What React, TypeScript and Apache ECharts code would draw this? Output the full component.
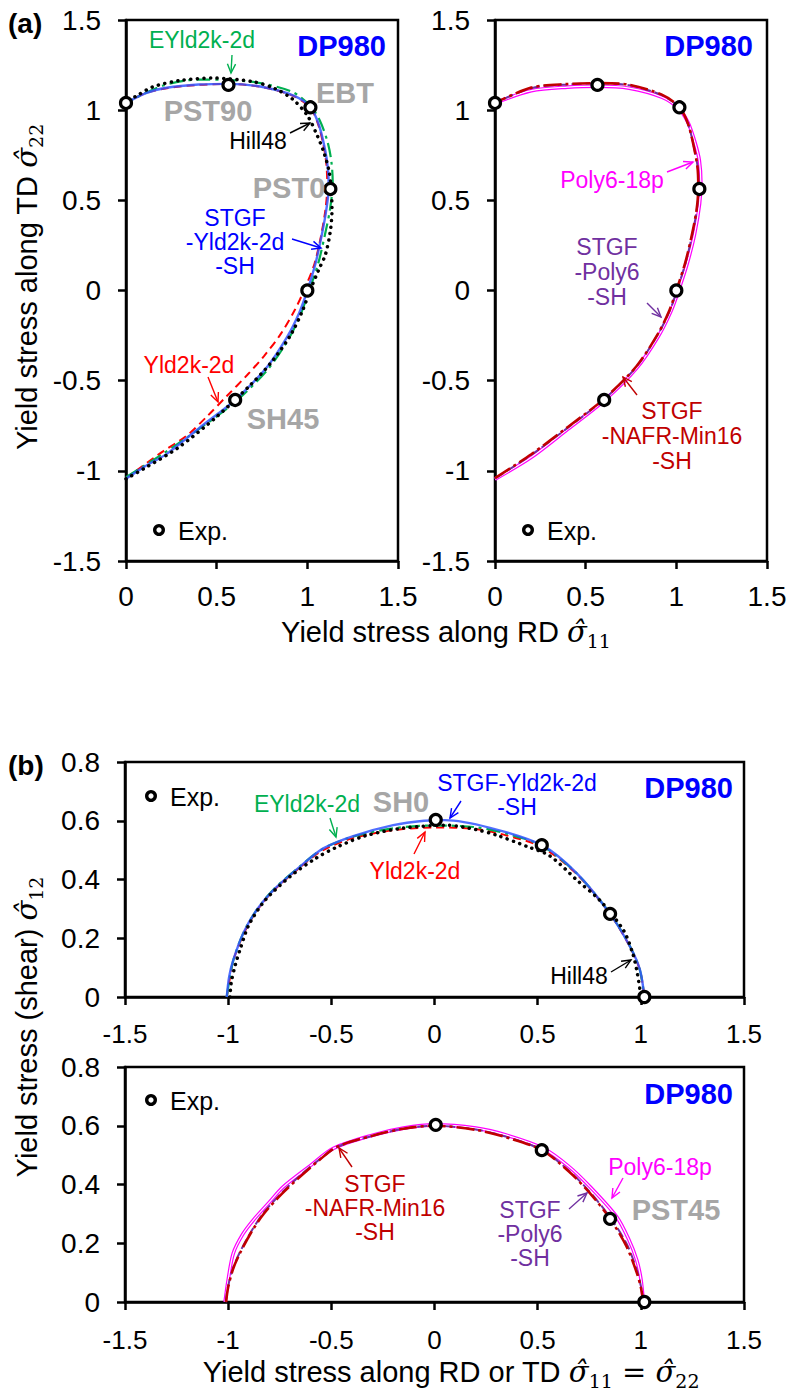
import React, { useEffect, useRef } from "react";
import * as echarts from "echarts";

const FONT = '"Liberation Sans", Arial, sans-serif';

// ---------- data ----------
const expA = [[0, 1.04], [0.565, 1.14], [1.017, 1.016], [1.127, 0.563], [1.0, 0.0], [0.602, -0.607]];
const expB = [[0.006, 0.603], [0.52, 0.517], [0.851, 0.283], [1.017, 0]];

const stgfYld2kA = [[0, -1.044], [0.1, -0.978], [0.225, -0.906], [0.409, -0.758], [0.602, -0.606], [0.777, -0.425], [0.888, -0.259], [0.955, -0.125], [1.0, 0], [1.045, 0.15], [1.081, 0.315], [1.105, 0.45], [1.118, 0.574], [1.113, 0.68], [1.098, 0.78], [1.065, 0.915], [1.017, 1.017], [0.924, 1.081], [0.74, 1.131], [0.565, 1.146], [0.4, 1.142], [0.225, 1.124], [0.11, 1.095], [0, 1.04]];
const hill48A = [[0, -1.045], [0.095, -0.99], [0.29, -0.87], [0.5, -0.7], [0.68, -0.53], [0.8, -0.4], [0.906, -0.25], [0.97, -0.12], [1.015, 0], [1.065, 0.12], [1.1, 0.2], [1.127, 0.33], [1.136, 0.45], [1.132, 0.56], [1.12, 0.66], [1.09, 0.77], [1.05, 0.87], [1.0, 0.97], [0.92, 1.06], [0.82, 1.12], [0.7, 1.158], [0.48, 1.178], [0.3, 1.165], [0.15, 1.13], [0.06, 1.08], [0, 1.045]];
const eyld2kA = [[0, -1.035], [0.2, -0.908], [0.4, -0.77], [0.6, -0.62], [0.78, -0.44], [0.89, -0.28], [0.96, -0.14], [1.01, 0], [1.06, 0.15], [1.095, 0.3], [1.125, 0.45], [1.14, 0.6], [1.132, 0.72], [1.11, 0.83], [1.07, 0.94], [1.02, 1.02], [0.92, 1.1], [0.74, 1.15], [0.55, 1.168], [0.4, 1.17], [0.2, 1.135], [0, 1.04]];
const yld2kA = [[0, -1.04], [0.2, -0.895], [0.335, -0.805], [0.45, -0.695], [0.556, -0.585], [0.667, -0.47], [0.76, -0.365], [0.851, -0.245], [0.93, -0.11], [0.99, 0.02], [1.04, 0.15], [1.075, 0.3], [1.1, 0.45], [1.11, 0.58], [1.105, 0.7], [1.09, 0.8], [1.06, 0.92], [1.015, 1.015], [0.92, 1.08], [0.74, 1.13], [0.565, 1.145], [0.4, 1.14], [0.225, 1.122], [0.11, 1.095], [0, 1.04]];

const poly6A = [[0, -1.046], [0.2, -0.925], [0.4, -0.77], [0.6, -0.612], [0.78, -0.432], [0.9, -0.255], [0.97, -0.115], [1.012, 0], [1.06, 0.15], [1.1, 0.31], [1.128, 0.48], [1.135, 0.6], [1.127, 0.72], [1.103, 0.82], [1.065, 0.93], [1.015, 1.008], [0.92, 1.072], [0.74, 1.122], [0.57, 1.133], [0.4, 1.128], [0.2, 1.108], [0, 1.04]];
const stgfPoly6A = [[0, -1.042], [0.2, -0.912], [0.4, -0.762], [0.6, -0.605], [0.78, -0.423], [0.9, -0.24], [0.965, -0.11], [1.003, 0], [1.05, 0.15], [1.088, 0.31], [1.113, 0.45], [1.122, 0.57], [1.118, 0.68], [1.1, 0.78], [1.066, 0.92], [1.017, 1.015], [0.92, 1.083], [0.74, 1.138], [0.57, 1.148], [0.4, 1.143], [0.2, 1.122], [0, 1.04]];
const nafrA = [[0, -1.04], [0.2, -0.908], [0.4, -0.758], [0.6, -0.602], [0.78, -0.42], [0.9, -0.238], [0.962, -0.11], [1.0, 0], [1.048, 0.15], [1.086, 0.31], [1.112, 0.45], [1.121, 0.57], [1.117, 0.68], [1.1, 0.78], [1.066, 0.92], [1.017, 1.017], [0.92, 1.086], [0.74, 1.141], [0.57, 1.15], [0.4, 1.145], [0.2, 1.125], [0, 1.04]];

const stgfYld2kB = [[-1.007, 0], [-0.995, 0.07], [-0.975, 0.126], [-0.927, 0.217], [-0.862, 0.296], [-0.781, 0.364], [-0.652, 0.444], [-0.539, 0.506], [-0.394, 0.548], [-0.2, 0.585], [-0.05, 0.6], [0.05, 0.602], [0.269, 0.576], [0.52, 0.517], [0.69, 0.421], [0.851, 0.283], [0.948, 0.171], [0.996, 0.092], [1.017, 0]];
const hill48B = [[-0.991, 0], [-0.985, 0.05], [-0.965, 0.11], [-0.943, 0.16], [-0.9, 0.245], [-0.82, 0.33], [-0.7, 0.41], [-0.58, 0.47], [-0.474, 0.51], [-0.329, 0.55], [-0.15, 0.575], [0.06, 0.585], [0.2, 0.57], [0.3, 0.551], [0.45, 0.512], [0.56, 0.48], [0.69, 0.398], [0.8, 0.33], [0.915, 0.228], [0.96, 0.15], [0.98, 0.092], [0.996, 0.024], [1.0, 0]];
const yld2kB = [[-1.007, 0], [-0.99, 0.07], [-0.975, 0.125], [-0.925, 0.215], [-0.86, 0.295], [-0.78, 0.362], [-0.65, 0.442], [-0.54, 0.5], [-0.4, 0.54], [-0.2, 0.568], [0, 0.577], [0.2, 0.572], [0.35, 0.55], [0.52, 0.51], [0.69, 0.418], [0.851, 0.282], [0.948, 0.17], [0.996, 0.09], [1.017, 0]];
const eyld2kB = [[-1.007, 0], [-0.99, 0.075], [-0.973, 0.13], [-0.925, 0.22], [-0.86, 0.298], [-0.78, 0.366], [-0.65, 0.446], [-0.54, 0.505], [-0.4, 0.545], [-0.2, 0.574], [0, 0.584], [0.2, 0.578], [0.35, 0.556], [0.52, 0.515], [0.69, 0.42], [0.851, 0.284], [0.948, 0.172], [0.996, 0.09], [1.017, 0]];

const poly6B = [[-1.015, 0], [-1.0, 0.075], [-0.975, 0.166], [-0.93, 0.23], [-0.878, 0.279], [-0.8, 0.34], [-0.733, 0.392], [-0.6, 0.465], [-0.49, 0.523], [-0.3, 0.568], [-0.15, 0.592], [0, 0.603], [0.2, 0.592], [0.35, 0.568], [0.527, 0.523], [0.65, 0.462], [0.754, 0.392], [0.883, 0.29], [0.94, 0.215], [0.98, 0.143], [1.0, 0.08], [1.012, 0]];
const nafrB = [[-1.01, 0], [-1.0, 0.05], [-0.975, 0.115], [-0.943, 0.166], [-0.89, 0.235], [-0.83, 0.298], [-0.74, 0.368], [-0.652, 0.426], [-0.56, 0.482], [-0.474, 0.528], [-0.3, 0.566], [-0.15, 0.59], [0, 0.6], [0.2, 0.586], [0.35, 0.56], [0.52, 0.517], [0.65, 0.445], [0.754, 0.37], [0.851, 0.283], [0.93, 0.19], [0.98, 0.1], [1.0, 0.05], [1.012, 0]];
const stgfPoly6B = [[-1.012, 0], [-1.0, 0.055], [-0.975, 0.118], [-0.943, 0.17], [-0.89, 0.238], [-0.83, 0.302], [-0.74, 0.372], [-0.652, 0.43], [-0.56, 0.484], [-0.474, 0.527], [-0.3, 0.566], [-0.15, 0.59], [0, 0.6], [0.2, 0.587], [0.35, 0.562], [0.52, 0.518], [0.65, 0.448], [0.754, 0.374], [0.851, 0.288], [0.93, 0.2], [0.98, 0.11], [1.0, 0.055], [1.012, 0]];

// ---------- colours ----------
const C = {
  blue: "#0000ff",
  curveBlue: "#3355ff",
  green: "#00b050",
  red: "#ff0000",
  darkRed: "#c00000",
  purple: "#7030a0",
  magenta: "#ff00ff",
  gray: "#a6a6a6",
};

function line(name, data, gi, color, width, type, extra = {}) {
  const dotted = type === "dotted";
  return {
    name,
    type: "line",
    xAxisIndex: gi,
    yAxisIndex: gi,
    data,
    showSymbol: false,
    symbol: "none",
    smooth: 0.3,
    silent: true,
    lineStyle: dotted
      ? { color, width, type: [0.1, 6.5], cap: "round" }
      : { color, width, type, cap: "butt", ...extra },
    z: 3,
  };
}

function exp(data, gi) {
  return {
    name: "Exp.",
    type: "scatter",
    xAxisIndex: gi,
    yAxisIndex: gi,
    data,
    symbol: "circle",
    symbolSize: 11,
    silent: true,
    itemStyle: { color: "#ffffff", borderColor: "#000000", borderWidth: 3.2, opacity: 1 },
    z: 10,
  };
}

function txt(x, y, text, color, size, bold = false, align = "center", lineHeight = 24) {
  return {
    type: "text",
    x,
    y,
    silent: true,
    z: 50,
    style: {
      text,
      fill: color,
      fontSize: size,
      fontFamily: FONT,
      fontWeight: bold ? "bold" : "normal",
      align,
      textAlign: align,
      verticalAlign: "middle",
      textVerticalAlign: "middle",
      lineHeight,
    },
  };
}

function arrow(x1, y1, x2, y2, color) {
  const a = Math.atan2(y2 - y1, x2 - x1);
  const L = 10;
  const w = 0.42;
  const p1 = [x2 - L * Math.cos(a - w), y2 - L * Math.sin(a - w)];
  const p2 = [x2 - L * Math.cos(a + w), y2 - L * Math.sin(a + w)];
  return [
    { type: "line", silent: true, z: 50, shape: { x1, y1, x2, y2 }, style: { stroke: color, lineWidth: 1.4 } },
    { type: "polyline", silent: true, z: 50, shape: { points: [p1, [x2, y2], p2] }, style: { stroke: color, fill: null, lineWidth: 1.4 } },
  ];
}

function legendExp(cx, cy) {
  return [
    { type: "circle", silent: true, z: 50, shape: { cx, cy, r: 4.3 }, style: { fill: "#fff", stroke: "#000", lineWidth: 3.4 } },
    txt(cx + 19, cy + 1, "Exp.", "#000", 25, false, "left"),
  ];
}

const richBase = {
  n: { fontSize: 29, fontFamily: FONT, fill: "#000", lineHeight: 36, verticalAlign: "middle" },
  s: { fontSize: 29, fontFamily: '"DejaVu Serif", serif', fontStyle: "italic", fill: "#000", lineHeight: 36, verticalAlign: "middle" },
  b: { fontSize: 19, fontFamily: '"DejaVu Serif", serif', fill: "#000", lineHeight: 24, verticalAlign: "bottom" },
};

function richTitle(x, y, text, rotation = 0) {
  return {
    type: "text",
    x,
    y,
    rotation,
    silent: true,
    z: 50,
    style: {
      text,
      rich: richBase,
      align: "center",
      textAlign: "center",
      verticalAlign: "middle",
      textVerticalAlign: "middle",
    },
  };
}

function xAx(gi, min, max, margin, fs) {
  return {
    type: "value",
    gridIndex: gi,
    min,
    max,
    interval: 0.5,
    axisLine: { show: true, onZero: false, lineStyle: { color: "#000", width: 2.5 } },
    axisTick: { show: true, inside: false, length: 8, lineStyle: { color: "#000", width: 2.5 } },
    axisLabel: { color: "#000", fontSize: fs, fontFamily: FONT, margin },
    splitLine: { show: false },
  };
}
function yAx(gi, min, max, interval) {
  return {
    type: "value",
    gridIndex: gi,
    min,
    max,
    interval,
    axisLine: { show: true, onZero: false, lineStyle: { color: "#000", width: 2.5 } },
    axisTick: { show: true, inside: false, length: 8, lineStyle: { color: "#000", width: 2.5 } },
    axisLabel: { color: "#000", fontSize: 28, fontFamily: FONT, margin: 25 },
    splitLine: { show: false },
  };
}

export default function App() {
  const ref = useRef(null);
  useEffect(() => {
    const chart = echarts.init(ref.current, null, { renderer: "svg" });
    const gridStyle = { show: true, borderColor: "#000", borderWidth: 2.5, backgroundColor: "transparent", containLabel: false };
    const graphics = [
      // panel (a) left
      txt(8, 23, "(a)", "#000", 28, true, "left"),
      txt(202, 40, "EYld2k-2d", C.green, 23),
      ...arrow(232, 55, 231, 73, C.green),
      txt(386, 46, "DP980", C.blue, 29, true, "right"),
      txt(208, 111, "PST90", C.gray, 29, true),
      txt(345, 93, "EBT", C.gray, 29, true),
      txt(258, 141, "Hill48", "#000", 23),
      ...arrow(290, 133, 310, 123, "#000"),
      txt(289, 188, "PST0", C.gray, 29, true),
      txt(235, 242, "STGF\n-Yld2k-2d\n-SH", C.blue, 23, false, "center", 24),
      ...arrow(292, 239, 321, 248, C.blue),
      txt(189, 365, "Yld2k-2d", C.red, 23),
      ...arrow(208, 377, 218, 402, C.red),
      txt(283, 419, "SH45", C.gray, 29, true),
      ...legendExp(159, 530),
      // panel (a) right
      txt(753, 46, "DP980", C.blue, 29, true, "right"),
      txt(612, 180, "Poly6-18p", C.magenta, 23),
      ...arrow(667, 172, 693, 162, C.magenta),
      txt(607, 272, "STGF\n-Poly6\n-SH", C.purple, 23, false, "center", 25),
      ...arrow(647, 303, 661, 317, C.purple),
      txt(672, 436, "STGF\n-NAFR-Min16\n-SH", C.darkRed, 23, false, "center", 25),
      ...arrow(637, 395, 623, 377, C.darkRed),
      ...legendExp(528, 530),
      // panel (b) top
      txt(8, 765, "(b)", "#000", 28, true, "left"),
      ...legendExp(151, 796),
      txt(307, 804, "EYld2k-2d", C.green, 23),
      ...arrow(330, 818, 336, 837, C.green),
      txt(401, 802, "SH0", C.gray, 29, true),
      txt(517, 795, "STGF-Yld2k-2d\n-SH", C.blue, 23, false, "center", 24),
      ...arrow(461, 801, 450, 818, C.blue),
      txt(415, 871, "Yld2k-2d", C.red, 23),
      ...arrow(414, 854, 425, 832, C.red),
      txt(733, 788, "DP980", C.blue, 29, true, "right"),
      txt(579, 976, "Hill48", "#000", 23),
      ...arrow(611, 972, 631, 960, "#000"),
      // panel (b) bottom
      ...legendExp(151, 1100),
      txt(733, 1094, "DP980", C.blue, 29, true, "right"),
      txt(375, 1208, "STGF\n-NAFR-Min16\n-SH", C.darkRed, 23, false, "center", 24),
      ...arrow(352, 1167, 339, 1148, C.darkRed),
      txt(660, 1167, "Poly6-18p", C.magenta, 23),
      ...arrow(623, 1178, 612, 1198, C.magenta),
      txt(530, 1234, "STGF\n-Poly6\n-SH", C.purple, 23, false, "center", 24),
      ...arrow(569, 1209, 587, 1193, C.purple),
      txt(676, 1210, "PST45", C.gray, 29, true),
      // axis titles
      richTitle(446, 632, "{n|Yield stress along RD }{s|σ\u0302}{b|11}"),
      richTitle(27, 287, "{n|Yield stress along TD }{s|σ\u0302}{b|22}", Math.PI / 2),
      richTitle(451, 1372, "{n|Yield stress along RD or TD }{s|σ\u0302}{b|11}{s| = σ\u0302}{b|22}"),
      richTitle(27, 1027, "{n|Yield stress (shear) }{s|σ\u0302}{b|12}", Math.PI / 2),
    ];

    const option = {
      animation: false,
      backgroundColor: "#ffffff",
      textStyle: { fontFamily: FONT },
      grid: [
        { ...gridStyle, left: 126, top: 20, width: 272, height: 541 },
        { ...gridStyle, left: 495, top: 20, width: 272, height: 541 },
        { ...gridStyle, left: 125, top: 762, width: 619, height: 235 },
        { ...gridStyle, left: 125, top: 1067, width: 619, height: 235 },
      ],
      xAxis: [xAx(0, 0, 1.5, 21, 28), xAx(1, 0, 1.5, 21, 28), xAx(2, -1.5, 1.5, 24, 26), xAx(3, -1.5, 1.5, 25, 26)],
      yAxis: [yAx(0, -1.5, 1.5, 0.5), yAx(1, -1.5, 1.5, 0.5), yAx(2, 0, 0.8, 0.2), yAx(3, 0, 0.8, 0.2)],
      series: [
        // (a) left
        line("Yld2k-2d", yld2kA, 0, C.red, 2, [8, 5]),
        line("EYld2k-2d", eyld2kA, 0, C.green, 2.2, [14, 5, 3, 5]),
        line("STGF-Yld2k-2d-SH", stgfYld2kA, 0, C.curveBlue, 2.4, "solid", { opacity: 0.85 }),
        line("Hill48", hill48A, 0, "#000", 3.5, "dotted"),
        exp(expA, 0),
        // (a) right
        line("Poly6-18p", poly6A, 1, C.magenta, 3.6, "solid"),
        line("Poly6-18p inner", poly6A, 1, "#ffffff", 1.2, "solid"),
        line("STGF-Poly6-SH", stgfPoly6A, 1, C.purple, 2, [10, 4]),
        line("STGF-NAFR-Min16-SH", nafrA, 1, C.darkRed, 2.6, [18, 4, 3, 4]),
        exp(expA, 1),
        // (b) top
        line("Yld2k-2d", yld2kB, 2, C.red, 2, [8, 5]),
        line("EYld2k-2d", eyld2kB, 2, C.green, 2.2, [14, 5, 3, 5]),
        line("STGF-Yld2k-2d-SH", stgfYld2kB, 2, C.curveBlue, 2.4, "solid", { opacity: 0.85 }),
        line("Hill48", hill48B, 2, "#000", 3.5, "dotted"),
        exp(expB, 2),
        // (b) bottom
        line("Poly6-18p", poly6B, 3, C.magenta, 3.6, "solid"),
        line("Poly6-18p inner", poly6B, 3, "#ffffff", 1.2, "solid"),
        line("STGF-Poly6-SH", stgfPoly6B, 3, C.purple, 2, [10, 4]),
        line("STGF-NAFR-Min16-SH", nafrB, 3, C.darkRed, 2.6, [18, 4, 3, 4]),
        exp(expB, 3),
      ],
      graphic: { elements: graphics },
    };
    chart.setOption(option);
    return () => chart.dispose();
  }, []);
  return (
    <div
      ref={ref}
      style={{ position: "absolute", left: 0, top: 0, width: 790, height: 1391, background: "#fff" }}
    />
  );
}
